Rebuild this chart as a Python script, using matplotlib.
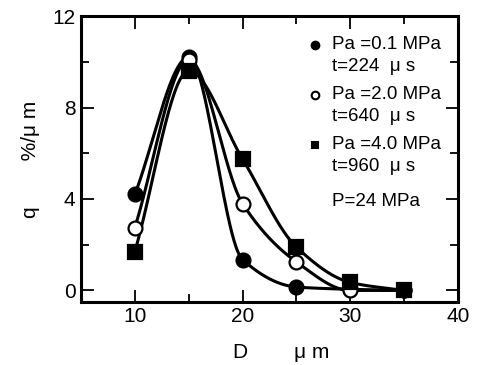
import numpy as np
import matplotlib
matplotlib.use("Agg")
import matplotlib.pyplot as plt

plt.rcParams['font.family'] = ['Liberation Sans', 'DejaVu Sans']

# data
d = [10, 15, 20, 25, 30, 35]
q_01 = [4.2, 10.2, 1.35, 0.15, 0.05, 0.0]
q_20 = [2.75, 10.1, 3.8, 1.25, 0.0, 0.0]
q_40 = [1.7, 9.6, 5.75, 1.9, 0.35, 0.0]

legend_rows = [
    ("o", "k", "Pa =0.1 MPa", "t=224  \u03bc s"),
    ("o", "white", "Pa =2.0 MPa", "t=640  \u03bc s"),
    ("s", "k", "Pa =4.0 MPa", "t=960  \u03bc s"),
]
note = "P=24 MPa"


def pchip(x, y, xs):
    # monotone cubic (Fritsch-Carlson) for smooth curve through points
    x = np.asarray(x, float)
    y = np.asarray(y, float)
    h = np.diff(x)
    delta = np.diff(y) / h
    m = np.zeros_like(y)
    for k in range(1, len(x) - 1):
        if delta[k - 1] * delta[k] > 0:
            w1 = 2 * h[k] + h[k - 1]
            w2 = h[k] + 2 * h[k - 1]
            m[k] = (w1 + w2) / (w1 / delta[k - 1] + w2 / delta[k])
    m[0] = delta[0]
    m[-1] = delta[-1]
    idx = np.clip(np.searchsorted(x, xs) - 1, 0, len(x) - 2)
    t = (xs - x[idx]) / h[idx]
    h00 = 2 * t**3 - 3 * t**2 + 1
    h10 = t**3 - 2 * t**2 + t
    h01 = -2 * t**3 + 3 * t**2
    h11 = t**3 - t**2
    return h00 * y[idx] + h10 * h[idx] * m[idx] + h01 * y[idx + 1] + h11 * h[idx] * m[idx + 1]


fig = plt.figure(figsize=(4.79, 3.65), dpi=100)
ax = fig.add_axes([0.169, 0.173, 0.787, 0.783])

xs = np.linspace(10, 35, 400)
for vals, (mk, fc, _, _) in zip([q_01, q_20, q_40], legend_rows):
    ax.plot(xs, pchip(d, vals, xs), color='k', lw=2.2, zorder=2)
    ax.plot(d, vals, marker=mk, ls='none', ms=10 if mk == 'o' else 9.5,
            mfc=fc, mec='k', mew=1.6, zorder=3)

ax.set_xlim(5, 40)
ax.set_ylim(-0.5, 12)
ax.set_xticks([10, 20, 30, 40])
ax.set_xticks([15, 25, 35], minor=True)
ax.set_yticks([0, 4, 8, 12])
ax.set_yticks([2, 6, 10], minor=True)
ax.tick_params(which='both', direction='in', top=True, right=True,
               labelsize=15, width=1.3, pad=4)
ax.tick_params(which='major', length=9)
ax.tick_params(which='minor', length=6)
for s in ax.spines.values():
    s.set_linewidth(2.2)

ax.set_xlabel("D        \u03bc m", fontsize=15)
ax.xaxis.set_label_coords(0.53, -0.145)
ax.set_ylabel("q        %/\u03bc m", fontsize=15, labelpad=9)

# legend drawn by hand
ys = [0.899, 0.724, 0.549]
for (mk, fc, l1, l2), yy in zip(legend_rows, ys):
    ax.plot([0.62], [yy], marker=mk, ms=5.5 if mk == 'o' else 5, mfc=fc,
            mec='k', mew=1.5, transform=ax.transAxes, clip_on=False)
    ax.text(0.665, yy, l1, transform=ax.transAxes, fontsize=13.5, va='center')
    ax.text(0.665, yy - 0.077, l2, transform=ax.transAxes, fontsize=13.5, va='center')
ax.text(0.665, 0.35, note, transform=ax.transAxes, fontsize=13.5, va='center')

fig.savefig("out.png", dpi=100)
